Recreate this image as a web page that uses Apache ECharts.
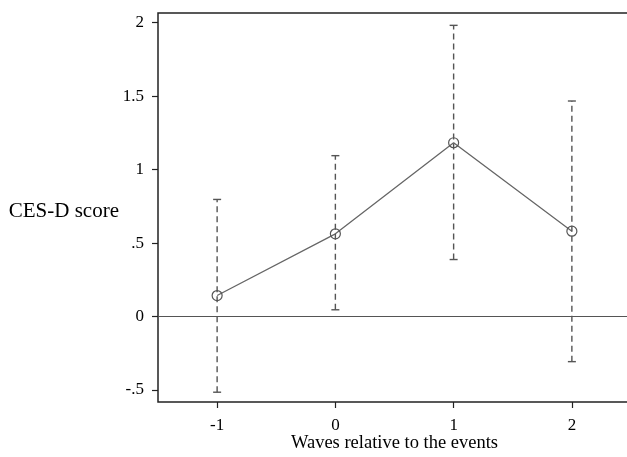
<!DOCTYPE html>
<html>
<head>
<meta charset="utf-8">
<script src="https://cdn.jsdelivr.net/npm/echarts@6/dist/echarts.min.js"></script>
<style>
html,body{margin:0;padding:0;background:#fff;}
#chart{width:627px;height:457px;}
</style>
</head>
<body>
<div id="chart"></div>
<script>
const waves = ['-1', '0', '1', '2'];
const means = [0.143, 0.563, 1.183, 0.581];
const lower = [-0.515, 0.046, 0.388, -0.307];
const upper = [0.797, 1.095, 1.982, 1.467];
const yTickValues = [-0.5, 0, 0.5, 1, 1.5, 2];
const yTickLabels = ['-.5', '0', '.5', '1', '1.5', '2'];
const yTitle = 'CES-D score';
const xTitle = 'Waves relative to the events';

const font = '"Liberation Serif", "DejaVu Serif", serif';
const chart = echarts.init(document.getElementById('chart'), null, {renderer: 'canvas'});

const errData = waves.map((w, i) => [i, lower[i], upper[i]]);

chart.setOption({
  backgroundColor: '#fff',
  animation: false,
  grid: [
    {left: 158, right: -4, top: 22.7, bottom: 67, outerBoundsMode: 'none', containLabel: false},
    {left: 158, right: -4, top: 13, bottom: 55, outerBoundsMode: 'none', containLabel: false, show: true, borderColor: '#222', borderWidth: 1.5, backgroundColor: 'transparent'}
  ],
  xAxis: [
    {
      gridIndex: 0, type: 'category', data: waves, boundaryGap: true, offset: 12,
      axisLine: {show: false, onZero: false},
      axisTick: {show: true, alignWithLabel: true, length: 6, lineStyle: {color: '#222', width: 1.2}},
      axisLabel: {margin: 15, color: '#000', fontFamily: font, fontSize: 17},
      splitLine: {show: false},
      name: xTitle, nameLocation: 'middle', nameGap: 32, nameMoveOverlap: false,
      nameTextStyle: {color: '#000', fontFamily: font, fontSize: 18.5}
    },
    {gridIndex: 1, type: 'value', min: 0, max: 1, show: false}
  ],
  yAxis: [
    {
      gridIndex: 0, type: 'value', min: -0.5, max: 2, interval: 0.5,
      axisLine: {show: false},
      axisTick: {show: true, length: 6, lineStyle: {color: '#222', width: 1.2}},
      axisLabel: {
        margin: 14, color: '#000', fontFamily: font, fontSize: 17,
        formatter: v => {
          const k = yTickValues.findIndex(t => Math.abs(t - v) < 1e-9);
          return k >= 0 ? yTickLabels[k] : '';
        }
      },
      splitLine: {show: false},
      name: yTitle, nameLocation: 'middle', nameRotate: 0, nameGap: 39, nameMoveOverlap: false,
      nameTextStyle: {color: '#000', fontFamily: font, fontSize: 21, verticalAlign: 'top', lineHeight: 11}
    },
    {gridIndex: 1, type: 'value', min: 0, max: 1, show: false}
  ],
  series: [
    {
      type: 'line', xAxisIndex: 0, yAxisIndex: 0, data: means,
      symbol: 'circle', symbolSize: 10,
      itemStyle: {color: 'rgba(0,0,0,0)', borderColor: '#555', borderWidth: 1.2},
      lineStyle: {color: '#666', width: 1.3},
      z: 3,
      markLine: {
        silent: true, symbol: ['none', 'none'], label: {show: false},
        lineStyle: {color: '#555', width: 1.2, type: 'solid'},
        data: [{yAxis: 0}]
      }
    },
    {
      type: 'custom', xAxisIndex: 0, yAxisIndex: 0, data: errData, z: 4,
      renderItem: (params, api) => {
        const x = api.value(0);
        const lo = api.coord([x, api.value(1)]);
        const hi = api.coord([x, api.value(2)]);
        const cap = 4;
        const st = {stroke: '#555', lineWidth: 1.4};
        return {
          type: 'group',
          children: [
            {type: 'line', shape: {x1: lo[0], y1: lo[1], x2: hi[0], y2: hi[1]}, style: {stroke: '#555', lineWidth: 1.4, lineDash: [6, 4]}},
            {type: 'line', shape: {x1: lo[0] - cap, y1: lo[1], x2: lo[0] + cap, y2: lo[1]}, style: st},
            {type: 'line', shape: {x1: hi[0] - cap, y1: hi[1], x2: hi[0] + cap, y2: hi[1]}, style: st}
          ]
        };
      }
    }
  ]
});
</script>
</body>
</html>
